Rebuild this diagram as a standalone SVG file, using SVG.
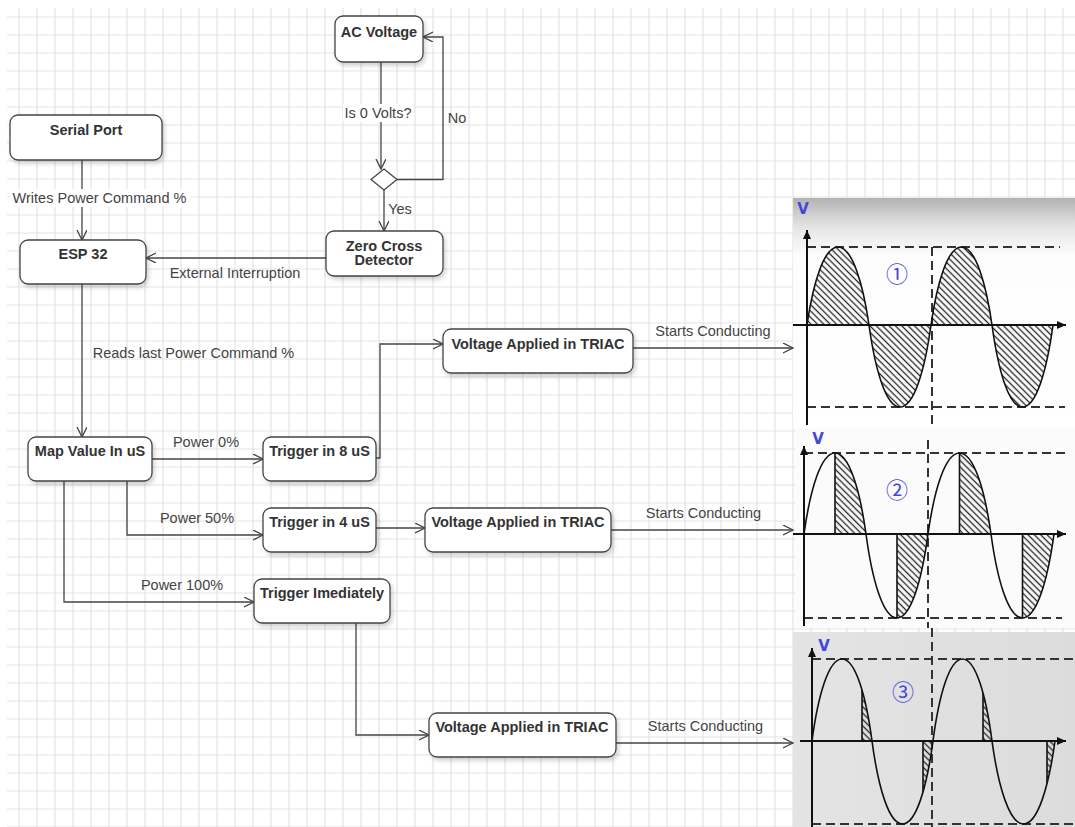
<svg xmlns="http://www.w3.org/2000/svg" width="1075" height="827" viewBox="0 0 1075 827">
<defs>
<style>
.nd rect{fill:#fff;stroke:#444;stroke-width:1.3;filter:url(#sh)}
.nd polygon{fill:#fff;stroke:#444;stroke-width:1.3}
.nt{font-family:"Liberation Sans",Arial,sans-serif;font-weight:bold;font-size:14.5px;fill:#333;text-anchor:middle}
.lb{font-family:"Liberation Sans",Arial,sans-serif;font-size:14.5px;fill:#444;text-anchor:middle}
.ed path{fill:none;stroke:#444;stroke-width:1.3;marker-end:url(#ar)}
.ax{stroke:#111;stroke-width:2;fill:none}
.ds{stroke:#333;stroke-width:2;fill:none;stroke-dasharray:9 5}
.wv{stroke:#111;stroke-width:1.6;fill:none}
.vl{font-family:"DejaVu Sans","Liberation Sans",sans-serif;font-weight:bold;font-size:15px;fill:#4646d8;text-anchor:middle}
.cn{font-family:"Noto Sans CJK SC","DejaVu Sans",sans-serif;font-size:22px;fill:#4646d8;text-anchor:middle}
</style>
<pattern id="grid" width="18" height="18" patternUnits="userSpaceOnUse" x="10" y="8">
<path d="M9,0V18M0,9H18" stroke="#e3e3e3" stroke-width="1.2" fill="none"/>
</pattern>
<pattern id="hatch" width="4.5" height="4.5" patternUnits="userSpaceOnUse" patternTransform="rotate(-45)">
<line x1="2.25" y1="0" x2="2.25" y2="4.5" stroke="#222" stroke-width="1.3"/>
</pattern>
<filter id="sh" x="-10%" y="-20%" width="130%" height="150%">
<feDropShadow dx="2" dy="3" stdDeviation="2" flood-color="#000" flood-opacity="0.18"/>
</filter>
<marker id="ar" markerWidth="12" markerHeight="12" refX="10" refY="5" orient="auto" markerUnits="userSpaceOnUse">
<path d="M0,0 L10,5 L0,10" fill="none" stroke="#444" stroke-width="1.3"/>
</marker>
<marker id="ta" markerWidth="10" markerHeight="10" refX="9" refY="4" orient="auto" markerUnits="userSpaceOnUse">
<path d="M0,0 L9,4 L0,8 Z" fill="#111"/>
</marker>
<linearGradient id="g1" x1="0" y1="0" x2="0" y2="1">
<stop offset="0" stop-color="#b2b2b2"/>
<stop offset="0.13" stop-color="#e6e6e6"/>
<stop offset="0.25" stop-color="#fdfdfd"/>
<stop offset="1" stop-color="#ffffff"/>
</linearGradient>
<linearGradient id="g3" x1="0" y1="0" x2="1" y2="0">
<stop offset="0" stop-color="#e4e4e4"/>
<stop offset="1" stop-color="#dcdcdc"/>
</linearGradient>
<clipPath id="c2">
<rect x="835" y="440" width="31" height="190"/>
<rect x="897" y="440" width="31" height="190"/>
<rect x="959.5" y="440" width="31.5" height="190"/>
<rect x="1022.5" y="440" width="31.5" height="190"/>
</clipPath>
<clipPath id="c3">
<rect x="862" y="640" width="10" height="190"/>
<rect x="923" y="640" width="10" height="190"/>
<rect x="983" y="640" width="9" height="190"/>
<rect x="1047" y="640" width="8" height="190"/>
</clipPath>
<clipPath id="w3">
<path d="M812,741 C818,695.9 828.5,659 842,659 C855.5,659 866,695.9 872,741 C878.1,786.65 888.78,824 902.5,824 C916.23,824 926.9,786.65 933,741 C938.9,695.9 949.23,659 962.5,659 C975.78,659 986.1,695.9 992,741 C998.3,786.65 1009.33,824 1023.5,824 C1037.68,824 1048.7,786.65 1055,741 Z"/>
</clipPath>
</defs>

<rect x="0" y="0" width="1075" height="827" fill="#fff"/>
<rect x="7" y="8" width="1068" height="819" fill="url(#grid)"/>

<g id="wave1">
<rect x="793" y="198" width="282" height="230" fill="url(#g1)"/>
<path class="ds" d="M807,247H1060M807,407H1065M932,247V440"/>
<path d="M807,325 C813.2,282.1 824.05,247 838,247 C851.95,247 862.8,282.1 869,325 C875.2,370.1 886.05,407 900,407 C913.95,407 924.8,370.1 931,325 C937.1,282.1 947.78,247 961.5,247 C975.23,247 985.9,282.1 992,325 C998.1,370.1 1008.78,407 1022.5,407 C1036.23,407 1046.9,370.1 1053,325 Z" fill="url(#hatch)" stroke="#111" stroke-width="1.6"/>
<path class="ax" d="M807,425V230" marker-end="url(#ta)"/>
<path class="ax" d="M793,325H1066" marker-end="url(#ta)"/>
<text class="vl" x="803" y="214">V</text>
<text class="cn" x="897" y="282">①</text>
</g>

<g id="wave2">
<rect x="796" y="428" width="279" height="200" fill="#fbfbfb"/>
<path class="ds" d="M804,453H1065M804,618H1062M928,440V628"/>
<path d="M804,534 C810.2,489.45 821.05,453 835,453 C848.95,453 859.8,489.45 866,534 C872.2,580.2 883.05,618 897,618 C910.95,618 921.8,580.2 928,534 C934.3,489.45 945.33,453 959.5,453 C973.68,453 984.7,489.45 991,534 C997.3,580.2 1008.33,618 1022.5,618 C1036.68,618 1047.7,580.2 1054,534 Z" fill="url(#hatch)" clip-path="url(#c2)"/>
<path class="wv" d="M804,534 C810.2,489.45 821.05,453 835,453 C848.95,453 859.8,489.45 866,534 C872.2,580.2 883.05,618 897,618 C910.95,618 921.8,580.2 928,534 C934.3,489.45 945.33,453 959.5,453 C973.68,453 984.7,489.45 991,534 C997.3,580.2 1008.33,618 1022.5,618 C1036.68,618 1047.7,580.2 1054,534"/>
<path class="wv" d="M835,534V453M897,534V618M959.5,534V453M1022.5,534V618"/>
<path class="ax" d="M804,626V446" marker-end="url(#ta)"/>
<path class="ax" d="M793,534H1066" marker-end="url(#ta)"/>
<text class="vl" x="818" y="444">V</text>
<text class="cn" x="897" y="498">②</text>
</g>

<g id="wave3">
<rect x="793" y="632" width="282" height="195" fill="url(#g3)"/>
<path class="ds" d="M812,659H1075M812,824H1075M932,628V827"/>
<path d="M812,741 C818,695.9 828.5,659 842,659 C855.5,659 866,695.9 872,741 C878.1,786.65 888.78,824 902.5,824 C916.23,824 926.9,786.65 933,741 C938.9,695.9 949.23,659 962.5,659 C975.78,659 986.1,695.9 992,741 C998.3,786.65 1009.33,824 1023.5,824 C1037.68,824 1048.7,786.65 1055,741 Z" fill="url(#hatch)" clip-path="url(#c3)"/>
<g clip-path="url(#w3)"><path class="wv" d="M862,741V650M923,741V830M983,741V650M1047,741V830"/></g>
<path class="wv" d="M812,741 C818,695.9 828.5,659 842,659 C855.5,659 866,695.9 872,741 C878.1,786.65 888.78,824 902.5,824 C916.23,824 926.9,786.65 933,741 C938.9,695.9 949.23,659 962.5,659 C975.78,659 986.1,695.9 992,741 C998.3,786.65 1009.33,824 1023.5,824 C1037.68,824 1048.7,786.65 1055,741"/>
<path class="ax" d="M812,827V648" marker-end="url(#ta)"/>
<path class="ax" d="M800,741H1066" marker-end="url(#ta)"/>
<text class="vl" x="824" y="651">V</text>
<text class="cn" x="903" y="700">③</text>
</g>

<g id="connectors" class="ed">
<path d="M82,160V240"/>
<path d="M381,62V169"/>
<path d="M397,179.5H443V37H423"/>
<path d="M384,190V231"/>
<path d="M326,258H146"/>
<path d="M82,284V437"/>
<path d="M152,459H263"/>
<path d="M127,481V535H263"/>
<path d="M64,481V602H254"/>
<path d="M376,458H380V344H443"/>
<path d="M376,528H425"/>
<path d="M356,623V735H429"/>
<path d="M633,348H793"/>
<path d="M611,530H793"/>
<path d="M616,743H793"/>
</g>

<g id="labels">
<rect x="10" y="189" width="180" height="18" fill="#fff"/>
<text class="lb" x="99.5" y="203">Writes Power Command %</text>
<rect x="343" y="104" width="70" height="18" fill="#fff"/>
<text class="lb" x="378" y="118">Is 0 Volts?</text>
<text class="lb" x="457" y="123">No</text>
<text class="lb" x="400" y="214">Yes</text>
<text class="lb" x="235" y="278">External Interruption</text>
<text class="lb" x="193.5" y="358">Reads last Power Command %</text>
<text class="lb" x="206" y="447">Power 0%</text>
<text class="lb" x="197" y="523">Power 50%</text>
<text class="lb" x="182" y="590">Power 100%</text>
<text class="lb" x="713" y="336">Starts Conducting</text>
<text class="lb" x="703.5" y="518">Starts Conducting</text>
<text class="lb" x="705.5" y="731">Starts Conducting</text>
</g>

<g id="serial-port" class="nd"><rect x="10" y="115" width="152" height="45" rx="8"/><text class="nt" x="86" y="135">Serial Port</text></g>
<g id="ac-voltage" class="nd"><rect x="335" y="16" width="88" height="46" rx="8"/><text class="nt" x="379" y="37">AC Voltage</text></g>
<g id="decision" class="nd"><polygon points="384,169 397,179.5 384,190 371,179.5"/></g>
<g id="zero-cross" class="nd"><rect x="326" y="231" width="117" height="45" rx="8"/><text class="nt" x="384" y="251">Zero Cross</text><text class="nt" x="384" y="265">Detector</text></g>
<g id="esp32" class="nd"><rect x="20" y="240" width="126" height="44" rx="8"/><text class="nt" x="83" y="259">ESP 32</text></g>
<g id="map-value" class="nd"><rect x="28" y="437" width="124" height="44" rx="8"/><text class="nt" x="90" y="456">Map Value In uS</text></g>
<g id="trigger-8" class="nd"><rect x="263" y="437" width="113" height="44" rx="8"/><text class="nt" x="319.5" y="456">Trigger in 8 uS</text></g>
<g id="trigger-4" class="nd"><rect x="263" y="508" width="113" height="44" rx="8"/><text class="nt" x="319.5" y="527">Trigger in 4 uS</text></g>
<g id="trigger-now" class="nd"><rect x="254" y="579" width="136" height="44" rx="8"/><text class="nt" x="322" y="598">Trigger Imediately</text></g>
<g id="triac-1" class="nd"><rect x="443" y="329" width="190" height="44" rx="8"/><text class="nt" x="538" y="349">Voltage Applied in TRIAC</text></g>
<g id="triac-2" class="nd"><rect x="425" y="508" width="186" height="44" rx="8"/><text class="nt" x="518" y="527">Voltage Applied in TRIAC</text></g>
<g id="triac-3" class="nd"><rect x="429" y="713" width="187" height="44" rx="8"/><text class="nt" x="522" y="732">Voltage Applied in TRIAC</text></g>
</svg>
